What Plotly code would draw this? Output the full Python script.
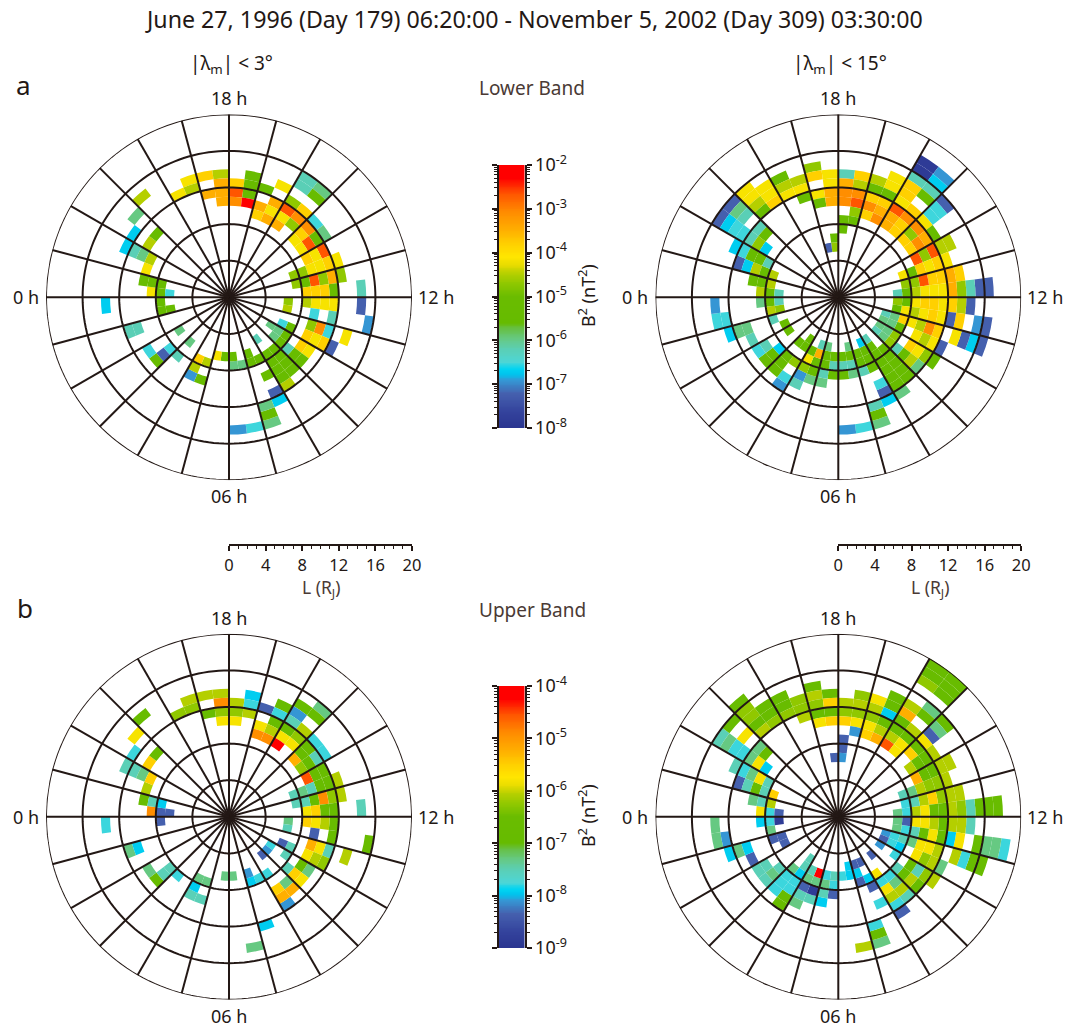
import numpy as np
import plotly.graph_objects as go

W, H = 1081, 1027

# colour classes -> log10(B^2) in each band
LOWER_LOG = dict(R=-2.3, OR=-2.66, O=-3.1, AM=-3.48, GY=-3.8, Y=-4.16, YG=-4.48, LG=-4.7, G=-5.3, MG=-5.96,
                 T=-6.22, TC=-6.53, C=-6.7, B=-6.92, IB=-7.22, N=-7.82)
UPPER_LOG = dict(R=-4.25, OR=-4.55, O=-4.92, AM=-5.24, GY=-5.5, Y=-5.8, YG=-6.07, LG=-6.25, G=-6.75, MG=-7.3,
                 T=-7.52, TC=-7.78, C=-7.92, B=-8.1, IB=-8.35, N=-8.85)

# cells: (L bin start in R_J, half-hour sector counted clockwise from 18 h, level)
LOWER_3 = [
 (12,0,"GY"),(11,0,"OR"),(10,0,"O"),(13,1,"G"),(12,1,"G"),(11,1,"G"),(10,1,"R"),(12,2,"G"),(10,2,"AM"),(9,2,"GY"),
 (13,3,"Y"),(11,3,"AM"),(10,3,"Y"),(9,3,"AM"),(15,4,"T"),(14,4,"T"),(12,4,"LG"),(11,4,"OR"),(10,4,"Y"),(9,4,"AM"),
 (15,5,"MG"),(14,5,"G"),(12,5,"GY"),(11,5,"O"),(10,5,"LG"),(12,6,"TC"),(11,6,"O"),(10,6,"GY"),(9,6,"Y"),
 (12,7,"MG"),(11,7,"G"),(10,7,"OR"),(9,7,"Y"),(11,8,"OR"),(10,8,"Y"),(9,8,"GY"),
 (12,9,"Y"),(11,9,"GY"),(10,9,"Y"),(9,9,"Y"),(8,9,"LG"),(7,9,"LG"),
 (12,10,"LG"),(11,10,"AM"),(10,10,"LG"),(9,10,"OR"),(8,10,"G"),(7,10,"LG"),
 (14,11,"T"),(11,11,"G"),(10,11,"GY"),(9,11,"GY"),(8,11,"GY"),
 (14,12,"IB"),(11,12,"Y"),(10,12,"Y"),(9,12,"Y"),(8,12,"YG"),(6,12,"LG"),
 (15,13,"B"),(11,13,"T"),(9,13,"TC"),(6,13,"YG"),
 (13,14,"Y"),(11,14,"TC"),(10,14,"O"),(9,14,"LG"),
 (12,15,"IB"),(11,15,"GY"),(10,15,"Y"),(9,15,"GY"),(7,15,"G"),(6,15,"TC"),
 (10,16,"Y"),(9,16,"GY"),(7,16,"G"),(6,16,"MG"),(5,16,"MG"),
 (10,17,"G"),(9,17,"G"),(8,17,"T"),(7,17,"G"),(6,17,"MG"),
 (10,18,"G"),(9,18,"G"),(8,18,"G"),(7,18,"G"),
 (11,19,"YG"),(10,19,"G"),(9,19,"G"),(8,19,"G"),(7,19,"G"),(5,19,"T"),
 (12,20,"C"),(11,20,"IB"),(9,20,"G"),(7,20,"G"),
 (14,21,"MG"),(13,21,"G"),(12,21,"MG"),(7,21,"G"),(6,21,"G"),
 (14,22,"TC"),(7,22,"MG"),(14,23,"B"),(7,23,"MG"),(6,23,"G"),(6,24,"G"),(6,25,"Y"),
 (9,26,"G"),(7,26,"YG"),(9,27,"B"),(8,27,"YG"),(7,27,"GY"),
 (6,29,"MG"),(8,29,"T"),(10,30,"G"),(9,30,"IB"),(8,30,"TC"),(10,31,"TC"),(6,31,"MG"),
 (11,33,"T"),(10,33,"T"),(7,34,"G"),(6,34,"G"),(13,35,"C"),(7,35,"G"),
 (8,36,"Y"),(7,36,"G"),(6,36,"TC"),(9,37,"G"),(8,37,"G"),(7,37,"G"),(9,38,"Y"),
 (12,39,"C"),(11,39,"T"),(10,39,"MG"),(9,39,"YG"),(12,40,"C"),(10,40,"YG"),
 (13,41,"MG"),(10,41,"G"),(14,42,"YG"),(12,44,"Y"),(13,45,"Y"),(12,45,"YG"),
 (13,46,"GY"),(11,46,"AM"),(13,47,"YG"),(12,47,"AM"),(11,47,"AM"),(10,47,"AM"),
]
LOWER_15 = [
 (13,0,"T"),(12,0,"AM"),(11,0,"O"),(10,0,"O"),(8,0,"G"),(7,0,"G"),(13,1,"GY"),(12,1,"YG"),(11,1,"O"),(10,1,"OR"),(9,1,"LG"),(8,1,"G"),
 (13,2,"YG"),(12,2,"G"),(11,2,"GY"),(10,2,"O"),(9,2,"GY"),
 (14,3,"Y"),(13,3,"Y"),(12,3,"G"),(11,3,"GY"),(10,3,"AM"),(9,3,"O"),
 (17,4,"N"),(16,4,"N"),(15,4,"T"),(14,4,"GY"),(13,4,"GY"),(12,4,"Y"),(11,4,"OR"),(10,4,"AM"),(9,4,"AM"),
 (17,5,"B"),(16,5,"C"),(15,5,"T"),(14,5,"G"),(12,5,"GY"),(11,5,"O"),(10,5,"GY"),(9,5,"GY"),
 (15,6,"IB"),(14,6,"TC"),(13,6,"TC"),(12,6,"Y"),(11,6,"O"),(10,6,"LG"),(9,6,"GY"),
 (12,7,"G"),(11,7,"AM"),(10,7,"O"),(9,7,"GY"),
 (13,8,"YG"),(12,8,"YG"),(11,8,"OR"),(10,8,"LG"),(9,8,"OR"),
 (12,9,"Y"),(11,9,"GY"),(10,9,"Y"),(9,9,"GY"),(8,9,"G"),(7,9,"Y"),
 (13,10,"GY"),(12,10,"AM"),(11,10,"GY"),(10,10,"GY"),(9,10,"OR"),(8,10,"LG"),(7,10,"LG"),
 (16,11,"IB"),(15,11,"IB"),(14,11,"T"),(13,11,"LG"),(12,11,"AM"),(11,11,"Y"),(10,11,"Y"),(9,11,"Y"),(8,11,"YG"),(7,11,"G"),(6,11,"T"),
 (14,12,"IB"),(13,12,"YG"),(12,12,"GY"),(11,12,"Y"),(10,12,"GY"),(9,12,"GY"),(8,12,"Y"),(7,12,"G"),(6,12,"LG"),
 (16,13,"IB"),(15,13,"B"),(13,13,"GY"),(12,13,"IB"),(11,13,"Y"),(10,13,"GY"),(9,13,"Y"),(8,13,"YG"),(7,13,"Y"),(6,13,"G"),
 (16,14,"IB"),(15,14,"C"),(14,14,"IB"),(13,14,"Y"),(11,14,"GY"),(10,14,"O"),(9,14,"YG"),(8,14,"Y"),(7,14,"GY"),(6,14,"MG"),(5,14,"T"),
 (12,15,"IB"),(11,15,"Y"),(10,15,"YG"),(9,15,"Y"),(7,15,"G"),(6,15,"MG"),(5,15,"MG"),
 (12,16,"G"),(11,16,"LG"),(10,16,"Y"),(9,16,"GY"),(7,16,"LG"),(6,16,"MG"),(5,16,"MG"),
 (11,17,"MG"),(10,17,"YG"),(9,17,"G"),(8,17,"T"),(7,17,"LG"),(6,17,"MG"),(5,17,"T"),
 (11,18,"G"),(10,18,"G"),(9,18,"G"),(8,18,"G"),(7,18,"G"),
 (12,19,"MG"),(11,19,"G"),(10,19,"G"),(9,19,"G"),(8,19,"G"),(7,19,"G"),(6,19,"G"),(5,19,"T"),
 (12,20,"C"),(11,20,"IB"),(10,20,"TC"),(8,20,"G"),(7,20,"G"),(6,20,"G"),(5,20,"C"),
 (14,21,"MG"),(13,21,"G"),(12,21,"T"),(8,21,"T"),(7,21,"G"),(6,21,"G"),
 (14,22,"TC"),(8,22,"MG"),(7,22,"T"),(6,22,"G"),(5,22,"MG"),
 (14,23,"B"),(8,23,"G"),(7,23,"T"),(6,23,"G"),(8,24,"G"),(7,24,"T"),(6,24,"G"),
 (9,25,"MG"),(8,25,"T"),(7,25,"G"),(6,25,"G"),(5,25,"MG"),
 (9,26,"MG"),(8,26,"G"),(7,26,"G"),(6,26,"AM"),(5,26,"T"),
 (10,27,"T"),(9,27,"B"),(8,27,"LG"),(7,27,"Y"),(6,27,"G"),
 (11,28,"B"),(10,28,"TC"),(8,28,"LG"),(6,28,"G"),(5,28,"G"),
 (10,29,"G"),(9,29,"G"),(8,29,"G"),(6,29,"G"),
 (10,30,"G"),(9,30,"G"),(8,30,"C"),(10,31,"TC"),(9,31,"T"),(6,31,"G"),
 (10,32,"T"),(6,32,"G"),(12,33,"C"),(11,33,"MG"),(10,33,"MG"),(7,33,"T"),
 (13,34,"TC"),(12,34,"TC"),(7,34,"YG"),(6,34,"LG"),(13,35,"B"),(8,35,"MG"),(7,35,"G"),(6,35,"T"),
 (8,36,"YG"),(7,36,"G"),(6,36,"T"),(9,37,"G"),(8,37,"G"),(7,37,"YG"),
 (11,38,"IB"),(10,38,"C"),(9,38,"YG"),(8,38,"G"),(7,38,"YG"),
 (12,39,"C"),(11,39,"TC"),(10,39,"G"),(9,39,"G"),(8,39,"T"),
 (15,40,"IB"),(14,40,"C"),(13,40,"TC"),(12,40,"TC"),(11,40,"T"),(10,40,"LG"),(9,40,"C"),
 (15,41,"IB"),(14,41,"MG"),(13,41,"T"),(11,41,"T"),(10,41,"G"),
 (15,42,"Y"),(14,42,"Y"),(13,42,"YG"),(12,42,"G"),(14,43,"Y"),(13,43,"Y"),(12,43,"GY"),
 (14,44,"G"),(13,44,"YG"),(12,44,"Y"),(13,45,"YG"),(12,45,"Y"),(11,45,"G"),
 (14,46,"LG"),(13,46,"GY"),(11,46,"Y"),(10,46,"G"),(13,47,"Y"),(12,47,"Y"),(11,47,"AM"),(10,47,"AM"),
 (6,47,"G"),(5,47,"LG"),(5,46,"IB"),
]
UPPER_3 = [
 (12,0,"YG"),(11,0,"LG"),(10,0,"Y"),(13,1,"C"),(12,1,"TC"),(11,1,"YG"),(12,2,"IB"),(10,2,"Y"),(9,2,"O"),
 (13,3,"G"),(12,3,"TC"),(11,3,"G"),(10,3,"YG"),(9,3,"O"),
 (14,4,"G"),(13,4,"B"),(12,4,"T"),(11,4,"G"),(10,4,"Y"),(9,4,"R"),
 (15,5,"MG"),(14,5,"G"),(12,5,"YG"),(11,5,"LG"),(10,5,"Y"),(12,6,"TC"),(11,6,"G"),(10,6,"G"),(9,6,"AM"),
 (12,7,"TC"),(11,7,"T"),(10,7,"G"),(9,7,"LG"),(11,8,"G"),(10,8,"G"),(9,8,"OR"),
 (12,9,"YG"),(11,9,"G"),(10,9,"G"),(9,9,"T"),(8,9,"MG"),(7,9,"T"),
 (12,10,"YG"),(11,10,"LG"),(10,10,"O"),(9,10,"G"),(8,10,"T"),(7,10,"T"),
 (14,11,"T"),(11,11,"G"),(10,11,"G"),(9,11,"GY"),(8,11,"Y"),
 (11,12,"G"),(10,12,"YG"),(9,12,"Y"),(8,12,"GY"),(6,12,"MG"),
 (15,13,"G"),(11,13,"G"),(9,13,"IB"),(6,13,"T"),
 (13,14,"YG"),(11,14,"T"),(10,14,"Y"),(9,14,"AM"),
 (11,15,"LG"),(10,15,"YG"),(9,15,"Y"),(7,15,"T"),(6,15,"IB"),
 (10,16,"MG"),(9,16,"G"),(7,16,"T"),(5,16,"TC"),
 (10,17,"Y"),(9,17,"GY"),(8,17,"T"),(5,17,"B"),
 (10,18,"AM"),(9,18,"MG"),(5,18,"IB"),
 (11,19,"B"),(10,19,"AM"),(9,19,"GY"),(7,19,"TC"),
 (7,20,"TC"),(12,21,"C"),(7,21,"C"),(6,21,"B"),(14,22,"MG"),(6,23,"MG"),(6,24,"MG"),
 (9,26,"T"),(7,26,"MG"),(9,27,"T"),(8,27,"C"),(7,27,"MG"),
 (8,29,"TC"),(10,30,"G"),(9,30,"T"),(8,30,"T"),(10,31,"MG"),
 (11,33,"MG"),(10,33,"C"),(13,35,"TC"),(7,35,"IB"),
 (8,36,"O"),(7,36,"IB"),(6,36,"IB"),(9,37,"G"),(8,37,"T"),(7,37,"C"),(9,38,"YG"),
 (12,39,"T"),(11,39,"T"),(10,39,"MG"),(9,39,"GY"),(12,40,"TC"),(10,40,"GY"),
 (13,41,"Y"),(10,41,"G"),(14,42,"G"),(12,44,"LG"),(13,45,"YG"),(12,45,"LG"),
 (13,46,"YG"),(11,46,"G"),(13,47,"YG"),(12,47,"O"),(11,47,"LG"),(10,47,"Y"),
]
UPPER_15 = [
 (12,0,"YG"),(11,0,"LG"),(10,0,"GY"),(8,0,"IB"),(7,0,"IB"),(6,0,"B"),(13,1,"LG"),(12,1,"YG"),(11,1,"LG"),(10,1,"Y"),(9,1,"B"),
 (13,2,"Y"),(12,2,"YG"),(11,2,"LG"),(10,2,"Y"),(9,2,"GY"),
 (14,3,"G"),(13,3,"G"),(12,3,"C"),(11,3,"G"),(10,3,"YG"),(9,3,"AM"),
 (19,4,"G"),(18,4,"G"),(17,4,"LG"),(14,4,"YG"),(13,4,"AM"),(12,4,"G"),(11,4,"G"),(10,4,"YG"),(9,4,"OR"),
 (19,5,"G"),(18,5,"G"),(17,5,"G"),(15,5,"MG"),(14,5,"G"),(12,5,"YG"),(11,5,"G"),(10,5,"Y"),(9,5,"Y"),
 (15,6,"G"),(14,6,"MG"),(13,6,"IB"),(12,6,"Y"),(11,6,"G"),(10,6,"GY"),
 (12,7,"YG"),(11,7,"G"),(10,7,"G"),(9,7,"YG"),
 (13,8,"YG"),(12,8,"YG"),(11,8,"G"),(10,8,"G"),(9,8,"AM"),
 (12,9,"YG"),(11,9,"LG"),(10,9,"LG"),(9,9,"YG"),(8,9,"MG"),(7,9,"T"),
 (13,10,"YG"),(12,10,"YG"),(11,10,"LG"),(10,10,"GY"),(9,10,"YG"),(8,10,"T"),(7,10,"TC"),
 (17,11,"G"),(16,11,"G"),(15,11,"G"),(14,11,"T"),(13,11,"LG"),(12,11,"YG"),(11,11,"G"),(10,11,"G"),(9,11,"Y"),(8,11,"YG"),(7,11,"TC"),(6,11,"MG"),
 (14,12,"T"),(13,12,"YG"),(12,12,"YG"),(11,12,"G"),(10,12,"YG"),(9,12,"Y"),(8,12,"Y"),(7,12,"IB"),(6,12,"MG"),
 (18,13,"TC"),(17,13,"MG"),(16,13,"MG"),(15,13,"G"),(13,13,"Y"),(12,13,"C"),(11,13,"G"),(10,13,"Y"),(9,13,"G"),(8,13,"T"),(7,13,"TC"),(6,13,"MG"),
 (16,14,"G"),(15,14,"G"),(14,14,"TC"),(13,14,"YG"),(11,14,"YG"),(10,14,"Y"),(9,14,"Y"),(8,14,"MG"),(7,14,"T"),(6,14,"TC"),(5,14,"B"),
 (12,15,"MG"),(11,15,"YG"),(10,15,"LG"),(9,15,"Y"),(7,15,"C"),(6,15,"TC"),(5,15,"IB"),
 (12,16,"YG"),(11,16,"LG"),(10,16,"T"),(9,16,"G"),(7,16,"TC"),(5,16,"B"),
 (11,17,"G"),(10,17,"YG"),(9,17,"G"),(8,17,"T"),
 (11,18,"T"),(10,18,"YG"),(9,18,"MG"),(8,18,"TC"),(5,18,"IB"),
 (12,19,"IB"),(11,19,"TC"),(10,19,"YG"),(9,19,"Y"),(8,19,"TC"),(7,19,"Y"),
 (10,20,"TC"),(8,20,"IB"),(7,20,"C"),(5,20,"IB"),
 (14,21,"MG"),(13,21,"G"),(12,21,"TC"),(7,21,"IB"),(6,21,"C"),(5,21,"IB"),
 (14,22,"YG"),(6,22,"C"),(5,22,"C"),(6,23,"TC"),(8,24,"IB"),(7,24,"TC"),(6,24,"T"),
 (9,25,"C"),(8,25,"T"),(7,25,"MG"),(6,25,"TC"),(9,26,"T"),(8,26,"N"),(7,26,"MG"),(6,26,"R"),
 (10,27,"MG"),(9,27,"T"),(8,27,"IB"),(7,27,"MG"),(6,27,"T"),(11,28,"G"),(10,28,"G"),(9,28,"TC"),(8,28,"TC"),(7,28,"C"),(6,28,"T"),(5,28,"T"),
 (10,29,"TC"),(9,29,"TC"),(8,29,"TC"),(7,29,"MG"),(10,30,"T"),(9,30,"MG"),(8,30,"T"),(10,31,"T"),(9,31,"T"),
 (10,32,"IB"),(6,32,"IB"),(12,33,"C"),(11,33,"MG"),(10,33,"C"),(7,33,"IB"),(6,33,"IB"),
 (13,34,"MG"),(12,34,"B"),(7,34,"MG"),(13,35,"MG"),(8,35,"C"),(7,35,"TC"),(6,35,"N"),
 (8,36,"Y"),(7,36,"TC"),(6,36,"IB"),(9,37,"MG"),(8,37,"T"),(7,37,"YG"),
 (11,38,"IB"),(10,38,"T"),(9,38,"G"),(8,38,"T"),(7,38,"GY"),
 (12,39,"T"),(11,39,"TC"),(10,39,"MG"),(9,39,"Y"),(8,39,"T"),
 (15,40,"T"),(14,40,"MG"),(13,40,"TC"),(12,40,"TC"),(11,40,"MG"),(10,40,"Y"),(9,40,"C"),
 (15,41,"G"),(13,41,"Y"),(11,41,"MG"),(10,41,"G"),
 (16,42,"G"),(15,42,"LG"),(14,42,"LG"),(13,42,"G"),(12,42,"YG"),(14,43,"G"),(13,43,"G"),(12,43,"LG"),
 (14,44,"G"),(13,44,"G"),(12,44,"LG"),(13,45,"LG"),(12,45,"LG"),(11,45,"YG"),
 (14,46,"G"),(13,46,"YG"),(12,46,"LG"),(11,46,"G"),(10,46,"Y"),(13,47,"G"),(12,47,"GY"),(11,47,"G"),(10,47,"GY"),
 (6,47,"IB"),
]

TITLE = "June 27, 1996 (Day 179) 06:20:00 - November 5, 2002 (Day 309) 03:30:00"
RINGS_L = [4, 8, 12, 16, 20]
LOWER_TICKS = [-8, -7, -6, -5, -4, -3, -2]
UPPER_TICKS = [-9, -8, -7, -6, -5, -4]
SCALE_TICKS = [0, 4, 8, 12, 16, 20]

COLORSCALE = [[0, "#2a3590"], [0.06, "#33429c"], [0.13, "#4560ae"], [0.18, "#3596d4"], [0.205, "#00c4ee"],
              [0.225, "#00d4f2"], [0.25, "#4dd6d6"], [0.30, "#5bcfb4"], [0.34, "#66c982"], [0.38, "#66bf40"],
              [0.40, "#66bb00"], [0.50, "#6abc00"], [0.55, "#90c800"], [0.59, "#b8d000"], [0.62, "#e8dc00"],
              [0.65, "#ffe600"], [0.70, "#ffd000"], [0.75, "#ffb000"], [0.82, "#ff8c00"], [0.89, "#ff5500"],
              [0.95, "#ff0000"], [1, "#ff0000"]]

FONT = "Noto Sans"
INK = "#231815"
GRID_W = 2.0

fig = go.Figure()


def px(x):
    return x / W


def py(y):
    return 1 - y / H


def add_panel(name, cx, cy, cells, levels, cmin, cmax):
    R = 183.0
    L = [c[0] for c in cells]
    k = np.array([c[1] for c in cells], dtype=float)
    mlt = (18 - (k + 0.5) / 2) % 24
    vals = [levels[c[2]] for c in cells]
    fig.add_trace(go.Barpolar(r=[1] * len(L), base=L, theta=mlt * 15, width=[7.5] * len(L),
                              marker=dict(color=vals, colorscale=COLORSCALE, cmin=cmin, cmax=cmax,
                                          line=dict(width=0)),
                              subplot=name, showlegend=False, hoverinfo="skip"))
    rr, tt = [], []
    for a in range(0, 360, 15):
        rr += [0, 20, None]
        tt += [a, a, None]
    for ring in RINGS_L:
        ang = list(np.arange(0, 361, 2.0))
        rr += [ring] * len(ang) + [None]
        tt += ang + [None]
    fig.add_trace(go.Scatterpolar(r=rr, theta=tt, mode="lines", subplot=name, showlegend=False, hoverinfo="skip",
                                  line=dict(color=INK, width=GRID_W), cliponaxis=False))
    layout = dict(
        domain=dict(x=[px(cx - R), px(cx + R)], y=[py(cy + R), py(cy - R)]),
        bgcolor="white", bargap=0,
        radialaxis=dict(range=[0, 20], visible=False),
        angularaxis=dict(rotation=180, direction="counterclockwise", showgrid=False, showline=False,
                         showticklabels=False, ticks=""),
    )
    fig.update_layout(**{name: layout})


add_panel("polar", 229.0, 297.3, LOWER_3, LOWER_LOG, -8, -2)
add_panel("polar2", 838.3, 297.3, LOWER_15, LOWER_LOG, -8, -2)
add_panel("polar3", 229.0, 816.8, UPPER_3, UPPER_LOG, -9, -4)
add_panel("polar4", 838.3, 816.8, UPPER_15, UPPER_LOG, -9, -4)

annotations = []


def text(x, y, s, size=15, color=INK, angle=0, family=FONT):
    annotations.append(dict(x=px(x), y=py(y), xref="paper", yref="paper", text=s, showarrow=False,
                            xanchor="center", yanchor="middle", textangle=angle,
                            font=dict(family=family, size=size, color=color)))


text(533.5, 19.5, TITLE, size=23.2)
text(23, 85, "a", size=26)
text(25, 608, "b", size=26)
text(231, 64, "|λ<sub>m</sub>| &lt; 3°", size=19)
text(840, 64, "|λ<sub>m</sub>| &lt; 15°", size=19)
text(532, 88, "Lower Band", size=19, color="#4a3a35")
text(532, 610, "Upper Band", size=19, color="#4a3a35")
for cx, cy in [(229.0, 297.3), (838.3, 297.3), (229.0, 816.8), (838.3, 816.8)]:
    text(cx, cy - 199, "18 h", size=18)
    text(cx, cy + 199, "06 h", size=18)
    text(cx - 203, cy, "0 h", size=18)
    text(cx + 207, cy, "12 h", size=18)
text(320.5, 588.5, "L (R<sub>J</sub>)", size=17.5, color="#4a3a35")
text(929.5, 588.5, "L (R<sub>J</sub>)", size=17.5, color="#4a3a35")
text(587, 296, "B<sup>2</sup> (nT<sup>2</sup>)", size=18, angle=-90)
text(587, 816, "B<sup>2</sup> (nT<sup>2</sup>)", size=18, angle=-90)


def add_colorbar(idx, top, bottom, ticks):
    lo, hi = ticks[0], ticks[-1]
    ys = np.linspace(lo, hi, 300)
    fig.add_trace(go.Heatmap(z=[[v, v] for v in ys], x=[0, 1], y=ys, zmin=lo, zmax=hi, colorscale=COLORSCALE,
                             showscale=False, hoverinfo="skip", xaxis=f"x{idx}", yaxis=f"y{idx}"))
    minor = [d + np.log10(m) for d in ticks[:-1] for m in range(2, 10)]
    fig.update_layout(**{
        f"xaxis{idx}": dict(domain=[px(499), px(524.5)], range=[0, 1], visible=False, anchor=f"y{idx}"),
        f"yaxis{idx}": dict(domain=[py(bottom), py(top)], range=[lo, hi], side="right", anchor=f"x{idx}",
                            tickvals=ticks, ticktext=[f"10<sup>{t}</sup>" for t in ticks],
                            ticks="outside", ticklen=5, tickwidth=1.5, tickcolor=INK,
                            minor=dict(tickvals=minor, ticks="outside", ticklen=3, tickwidth=1, tickcolor=INK),
                            showline=True, linecolor=INK, linewidth=2, mirror="allticks", showgrid=False,
                            zeroline=False, tickfont=dict(family=FONT, size=18, color=INK)),
    })


def add_scale(idx, x0):
    fig.add_trace(go.Scatter(x=[0, 20], y=[0, 0], mode="none", xaxis=f"x{idx}", yaxis=f"y{idx}",
                             showlegend=False, hoverinfo="skip"))
    fig.update_layout(**{
        f"xaxis{idx}": dict(domain=[px(x0), px(x0 + 183)], range=[0, 20], anchor=f"y{idx}", tickvals=SCALE_TICKS,
                            ticks="outside", ticklen=5, tickwidth=1.5, tickcolor=INK,
                            minor=dict(dtick=1, tick0=0, ticks="outside", ticklen=3, tickwidth=1, tickcolor=INK),
                            showline=True, linecolor=INK, linewidth=1.5, showgrid=False, zeroline=False,
                            tickfont=dict(family=FONT, size=16.5, color=INK)),
        f"yaxis{idx}": dict(domain=[py(544), py(534)], visible=False, anchor=f"x{idx}", range=[0, 1]),
    })


add_colorbar(1, 165, 428, LOWER_TICKS)
add_colorbar(2, 686, 948, UPPER_TICKS)
add_scale(3, 229.0)
add_scale(4, 838.3)

fig.update_layout(width=W, height=H, autosize=False, margin=dict(l=0, r=0, t=0, b=0, autoexpand=False),
                  paper_bgcolor="white", plot_bgcolor="white", showlegend=False, annotations=annotations,
                  font=dict(family=FONT, color=INK))
fig.write_html("out.html", config=dict(displayModeBar=False),
               post_script="document.body.style.margin='0';document.body.style.overflow='hidden';")
